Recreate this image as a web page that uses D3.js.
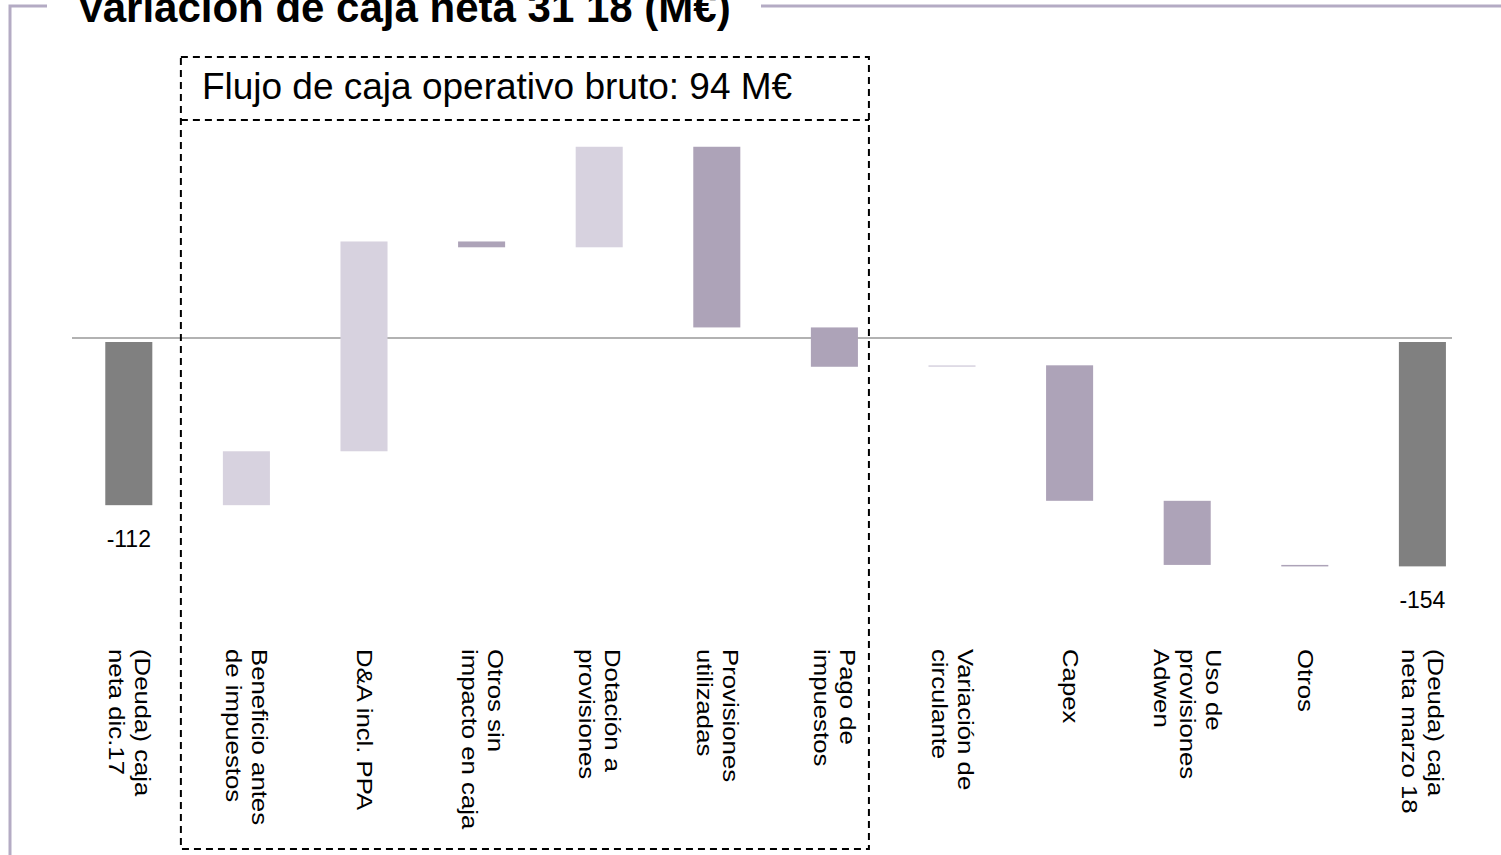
<!DOCTYPE html>
<html>
<head>
<meta charset="utf-8">
<script src="https://cdn.jsdelivr.net/npm/d3@7"></script>
<style>
  body { margin: 0; background: #fff; }
  text { font-family: "Liberation Sans", Arial, sans-serif; }
</style>
</head>
<body>
<script>
// Data: waterfall of net cash variation (M€)
var categories = [
  "(Deuda) caja\nneta dic.17",
  "Beneficio antes\nde impuestos",
  "D&A incl. PPA",
  "Otros sin\nimpacto en caja",
  "Dotación a\nprovisiones",
  "Provisiones\nutilizadas",
  "Pago de\nimpuestos",
  "Variación de\ncirculante",
  "Capex",
  "Uso de\nprovisiones\nAdwen",
  "Otros",
  "(Deuda) caja\nneta marzo 18"
];
var startValue = -112;
var deltas = [37, 144, -4, 69, -124, -27, 1, -93, -44, -1];
var endValue = -154;
var totalLabels = ["-112", "-154"];
var titleText = "Variación de caja neta 31 18 (M€)";
var boxText = "Flujo de caja operativo bruto: 94 M€";

// build waterfall rows
var rows = [];
var running = startValue;
rows.push({cat: categories[0], y0: 0, y1: startValue, kind: "total", label: totalLabels[0]});
deltas.forEach(function(d, i) {
  var prev = running;
  running = running + d;
  rows.push({cat: categories[i + 1], y0: prev, y1: running, kind: d >= 0 ? "up" : "down"});
});
rows.push({cat: categories[11], y0: 0, y1: endValue, kind: "total", label: totalLabels[1]});

var svgWidth = 1501;
var svgHeight = 855;

var colors = {total: "#808080", up: "#d7d2df", down: "#ada3b8"};

var svg = d3.select("body")
  .append("svg")
  .attr("width", svgWidth)
  .attr("height", svgHeight);

var x = d3.scaleBand()
  .domain(categories)
  .range([70, 70 + 12 * 117.6])
  .paddingInner(0.6)
  .paddingOuter(0.3);

var y = d3.scaleLinear()
  .domain([-160, 140])
  .range([342 + 160 * 1.457, 342 - 140 * 1.457]);

// frame
var frame = svg.append("g")
  .attr("stroke", "#b4abc4")
  .attr("stroke-width", 3)
  .attr("fill", "none");
frame.append("path").attr("d", "M47,6 H10 V855");
frame.append("path").attr("d", "M761,6 H1501");

// title (cut at top like the original)
svg.append("text")
  .attr("x", 77)
  .attr("y", 22)
  .attr("font-size", 42)
  .attr("font-weight", "bold")
  .attr("fill", "#000")
  .text(titleText);

// zero line
svg.append("line")
  .attr("x1", 72)
  .attr("x2", 1452)
  .attr("y1", y(0) - 4)
  .attr("y2", y(0) - 4)
  .attr("stroke", "#999")
  .attr("stroke-width", 1.5);

// bars
svg.selectAll("rect.bar")
  .data(rows)
  .enter()
  .append("rect")
  .attr("class", "bar")
  .attr("x", d => x(d.cat))
  .attr("width", x.bandwidth())
  .attr("y", d => y(Math.max(d.y0, d.y1)))
  .attr("height", d => Math.max(1.5, Math.abs(y(d.y0) - y(d.y1))))
  .attr("fill", d => colors[d.kind]);

// total value labels
svg.selectAll("text.val")
  .data(rows.filter(d => d.label))
  .enter()
  .append("text")
  .attr("class", "val")
  .attr("x", d => x(d.cat) + x.bandwidth() / 2)
  .attr("y", d => y(d.y1) + 42)
  .attr("text-anchor", "middle")
  .attr("font-size", 23)
  .text(d => d.label);

// category labels (rotated, slightly stretched along the text)
var lh = 26;
var labels = svg.selectAll("g.cat")
  .data(categories)
  .enter()
  .append("g")
  .attr("class", "cat")
  .attr("transform", d => `translate(${x(d) + x.bandwidth() / 2}, 649) rotate(90) scale(1.12, 1)`);

labels.append("text")
  .attr("font-size", 23)
  .attr("fill", "#000")
  .each(function(d) {
    var lines = d.split("\n");
    var t = d3.select(this);
    lines.forEach(function(line, i) {
      t.append("tspan")
        .attr("x", 0)
        .attr("y", (i - (lines.length - 1) / 2) * lh + 7)
        .text(line);
    });
  });

// dashed box around operating cash flow
var boxLeft = x(categories[1]) - 42;
var boxRight = x(categories[6]) + x.bandwidth() + 11;
var dash = svg.append("g")
  .attr("stroke", "#000")
  .attr("stroke-width", 2)
  .attr("stroke-dasharray", "7,5")
  .attr("fill", "none");
dash.append("rect")
  .attr("x", boxLeft)
  .attr("y", 57)
  .attr("width", boxRight - boxLeft)
  .attr("height", 849 - 57);
dash.append("line")
  .attr("x1", boxLeft)
  .attr("x2", boxRight)
  .attr("y1", 120)
  .attr("y2", 120);

svg.append("text")
  .attr("x", boxLeft + 21)
  .attr("y", 99)
  .attr("font-size", 37)
  .text(boxText);
</script>
</body>
</html>
